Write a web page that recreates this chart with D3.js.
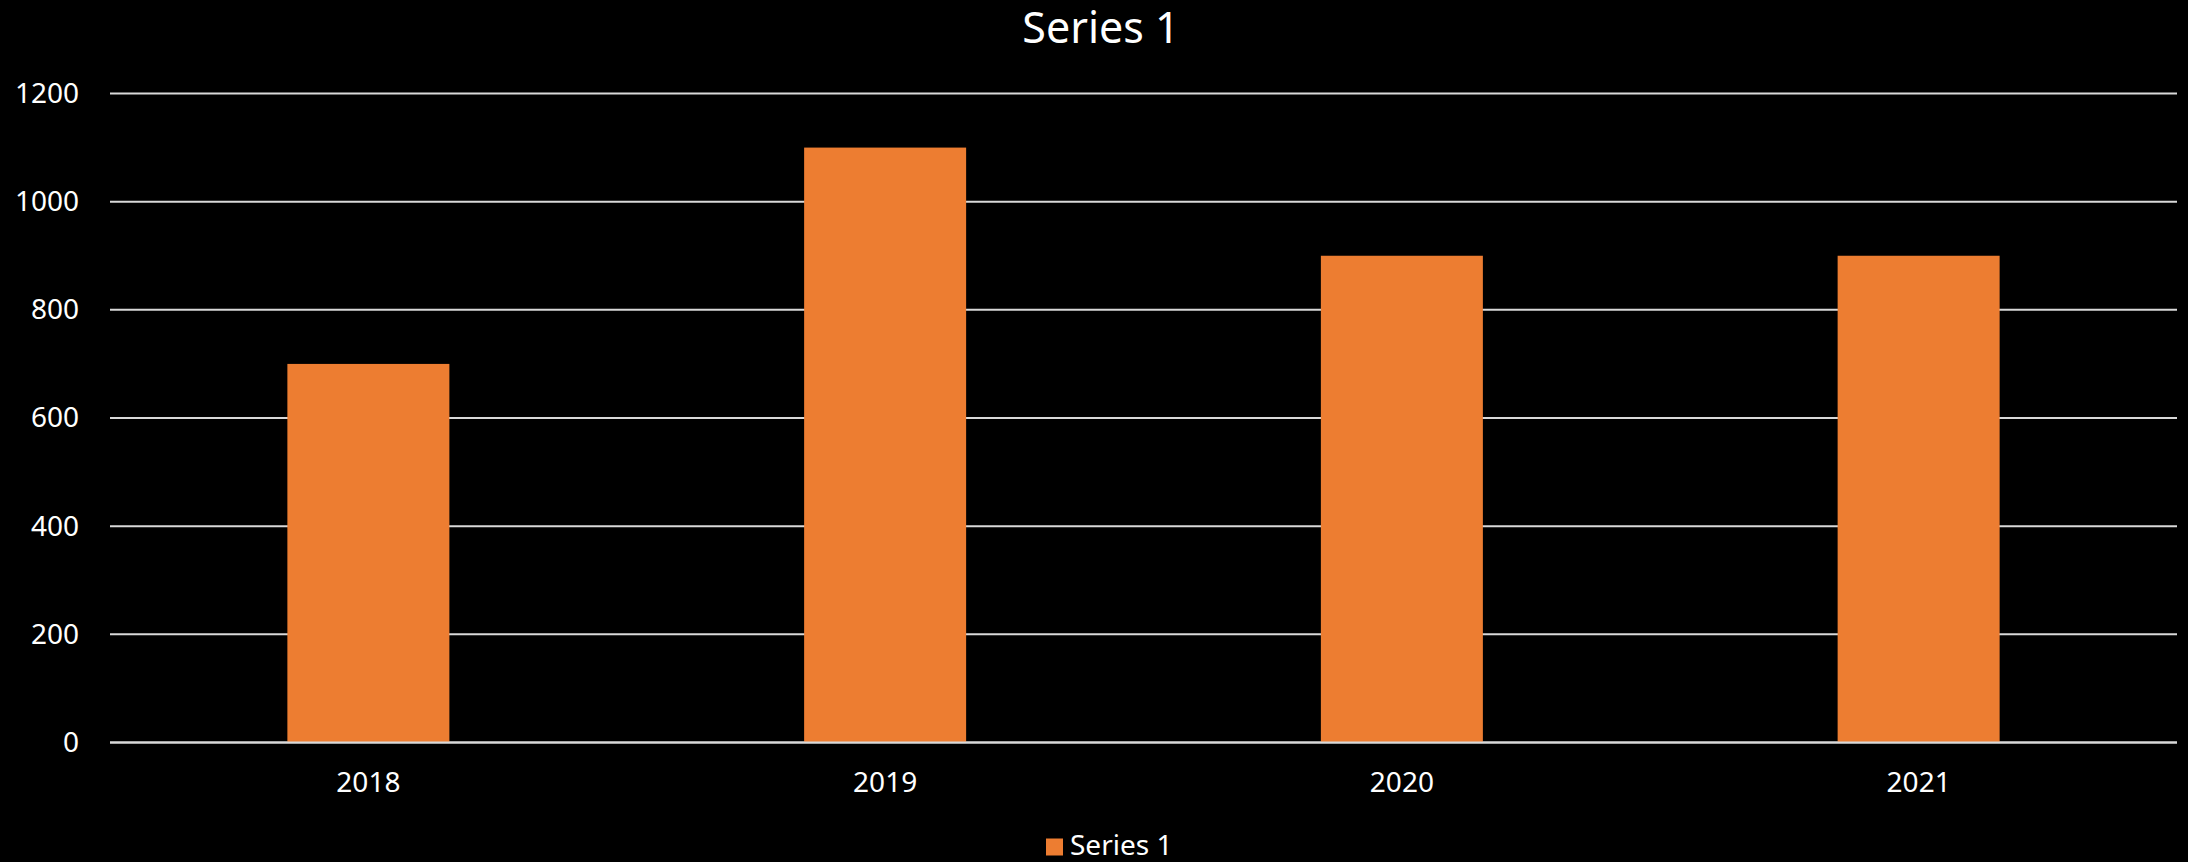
<!DOCTYPE html>
<html>
<head>
<meta charset="utf-8">
<script src="https://cdn.jsdelivr.net/npm/d3@7"></script>
<style>
  html, body { margin: 0; padding: 0; background: #000; }
  svg { display: block; }
</style>
</head>
<body>
<div id="chart"></div>
<script>
var years = ["2018", "2019", "2020", "2021"];
var seriesValues = [700, 1100, 900, 900];
var yTicks = [0, 200, 400, 600, 800, 1000, 1200];
var seriesName = "Series 1";

var width = 2188, height = 862;
var plotLeft = 110, plotRight = 2177, plotTop = 93.5, plotBottom = 742.5;
var gap = 0.6865; // excel gap width 219%

var svg = d3.select("#chart")
    .append("svg")
    .attr("width", width)
    .attr("height", height)
    .attr("viewBox", "0 0 " + width + " " + height)
    .style("font-family", "'Noto Sans', sans-serif");

svg.append("rect")
    .attr("width", width)
    .attr("height", height)
    .attr("fill", "#000");

var x = d3.scaleBand()
    .domain(years)
    .range([plotLeft, plotRight])
    .paddingInner(gap)
    .paddingOuter(gap / 2);

var y = d3.scaleLinear()
    .domain([0, 1200])
    .range([plotBottom, plotTop]);

// gridlines
svg.append("g")
    .selectAll("line")
    .data(yTicks)
    .enter().append("line")
    .attr("x1", plotLeft)
    .attr("x2", plotRight)
    .attr("y1", function(d) { return y(d); })
    .attr("y2", function(d) { return y(d); })
    .attr("stroke", "#d9d9d9")
    .attr("stroke-width", 2);

// y axis labels
var yAxis = svg.append("g")
    .attr("transform", "translate(" + plotLeft + ",0)")
    .call(d3.axisLeft(y).tickValues(yTicks).tickFormat(d3.format("d")).tickSize(0).tickPadding(31));
yAxis.select(".domain").remove();
yAxis.selectAll("text")
    .attr("fill", "#fff")
    .attr("font-size", 28)
    .attr("font-family", "'Noto Sans', sans-serif");

// bars
svg.append("g")
    .selectAll("rect")
    .data(seriesValues)
    .enter().append("rect")
    .attr("x", function(d, i) { return x(years[i]); })
    .attr("y", function(d) { return y(d); })
    .attr("width", x.bandwidth())
    .attr("height", function(d) { return plotBottom - y(d); })
    .attr("fill", "#ED7D31");

// x axis line on top of bars
svg.append("line")
    .attr("x1", plotLeft)
    .attr("x2", plotRight)
    .attr("y1", y(0))
    .attr("y2", y(0))
    .attr("stroke", "#d9d9d9")
    .attr("stroke-width", 2);

// x axis labels
var xAxis = svg.append("g")
    .attr("transform", "translate(0," + plotBottom + ")")
    .call(d3.axisBottom(x).tickSize(0).tickPadding(30));
xAxis.select(".domain").remove();
xAxis.selectAll("text")
    .attr("fill", "#fff")
    .attr("font-size", 28)
    .attr("font-family", "'Noto Sans', sans-serif");

// title
svg.append("text")
    .attr("x", 1101)
    .attr("y", 43)
    .attr("text-anchor", "middle")
    .attr("fill", "#fff")
    .attr("font-size", 43)
    .text(seriesName);

// legend
var legend = svg.append("g");
legend.append("rect")
    .attr("x", 1046)
    .attr("y", 838.5)
    .attr("width", 17)
    .attr("height", 17)
    .attr("fill", "#ED7D31");
legend.append("text")
    .attr("x", 1070)
    .attr("y", 855)
    .attr("fill", "#fff")
    .attr("font-size", 28)
    .text(seriesName);
</script>
</body>
</html>
